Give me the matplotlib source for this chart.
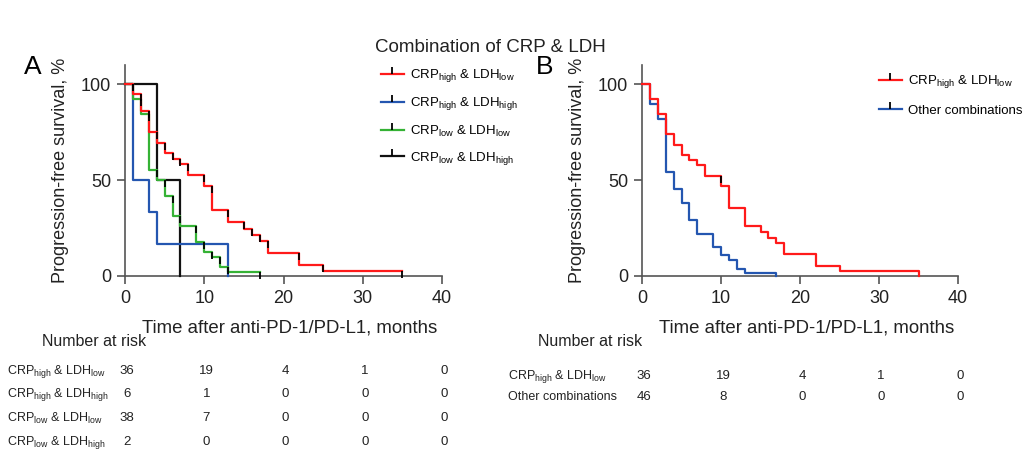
import matplotlib
matplotlib.use('Agg')
import matplotlib.pyplot as plt
from matplotlib.lines import Line2D

plt.rcParams['font.family'] = ['Liberation Sans', 'DejaVu Sans']
plt.rcParams['mathtext.fontset'] = 'custom'
plt.rcParams['mathtext.rm'] = 'Liberation Sans'
plt.rcParams['mathtext.it'] = 'Liberation Sans:italic'
plt.rcParams['mathtext.bf'] = 'Liberation Sans:bold'

# panel A: four CRP/LDH groups (months, % PFS)
a_red_t = [0, 1, 2, 3, 4, 5, 6, 7, 8, 10, 11, 13, 15, 16, 17, 18, 22, 25, 35]
a_red_s = [100, 94.8, 86.2, 75.1, 69.5, 63.9, 61.0, 58.2, 52.6, 46.9, 34.3, 28.0, 24.7, 21.6, 18.3, 12.2, 5.7, 2.4, 2.4]
a_blue_t = [0, 1, 3, 4, 13]
a_blue_s = [100, 50, 33.3, 16.7, 0]
a_green_t = [0, 1, 2, 3, 4, 5, 6, 7, 9, 10, 11, 12, 13, 17]
a_green_s = [100, 92.1, 84.2, 55.3, 50.0, 41.6, 31.2, 26.1, 17.8, 12.5, 9.9, 4.7, 2.1, 2.1]
a_black_t = [0, 4, 7]
a_black_s = [100, 50, 0]

# panel B: CRP high & LDH low vs the rest
b_red_t = [0, 1, 2, 3, 4, 5, 6, 7, 8, 10, 11, 13, 15, 16, 17, 18, 22, 25, 35]
b_red_s = [100, 92.3, 84.3, 73.9, 68.3, 63.1, 60.5, 57.8, 52.3, 47.0, 35.2, 26.1, 23.0, 20.0, 17.2, 11.3, 5.2, 2.4, 0]
b_blue_t = [0, 1, 2, 3, 4, 5, 6, 7, 9, 10, 11, 12, 13, 17]
b_blue_s = [100, 89.5, 81.9, 54.4, 45.3, 38.2, 29.1, 22.1, 15.2, 10.8, 8.2, 3.8, 1.7, 0]
b_cens_t = [10]
b_cens_s = [52.3]

labels_a = [r'CRP$_{\mathrm{high}}$ & LDH$_{\mathrm{low}}$',
            r'CRP$_{\mathrm{high}}$ & LDH$_{\mathrm{high}}$',
            r'CRP$_{\mathrm{low}}$ & LDH$_{\mathrm{low}}$',
            r'CRP$_{\mathrm{low}}$ & LDH$_{\mathrm{high}}$']
labels_b = [r'CRP$_{\mathrm{high}}$ & LDH$_{\mathrm{low}}$', 'Other combinations']

risk_times = [0, 10, 20, 30, 40]
risk_a = [[36, 19, 4, 1, 0], [6, 1, 0, 0, 0], [38, 7, 0, 0, 0], [2, 0, 0, 0, 0]]
risk_b = [[36, 19, 4, 1, 0], [46, 8, 0, 0, 0]]

RED, BLUE, GREEN, BLACK = '#ff1a1a', '#2456b0', '#35b235', '#111111'
AXC = '#555555'

fig = plt.figure(figsize=(10.25, 4.51), dpi=100)
W, H = 1025, 451
axA = fig.add_axes([125 / W, 1 - 276 / H, 317 / W, 211 / H])
axB = fig.add_axes([642 / W, 1 - 276 / H, 316 / W, 211 / H])


def style(ax):
    ax.set_xlim(0, 40)
    ax.set_ylim(0, 110)
    ax.set_xticks([0, 10, 20, 30, 40])
    ax.set_yticks([0, 50, 100])
    for s in ['top', 'right']:
        ax.spines[s].set_visible(False)
    for s in ['left', 'bottom']:
        ax.spines[s].set_color(AXC)
        ax.spines[s].set_linewidth(1.2)
    ax.tick_params(direction='out', length=6, width=1.2, color=AXC,
                   labelsize=13, labelcolor='#222222', pad=4)
    ax.set_xlabel('Time after anti-PD-1/PD-L1, months', fontsize=13.4, color='#222222')
    ax.xaxis.set_label_coords(0.52, -0.205)
    ax.set_ylabel('Progression-free survival, %', fontsize=13, color='#222222')
    ax.yaxis.set_label_coords(-0.178, 0.5)


def km(ax, t, s, color, cens=False):
    ax.plot(t, s, drawstyle='steps-post', color=color, lw=1.6, clip_on=False, zorder=3)
    if cens:
        ax.plot(t[1:], s[:-1], ls='none', marker=3, ms=5, mew=1.3,
                color='black', clip_on=False, zorder=4)


style(axA)
style(axB)

km(axA, a_black_t, a_black_s, BLACK)
km(axA, a_blue_t, a_blue_s, BLUE)
km(axA, a_green_t, a_green_s, GREEN, cens=True)
km(axA, a_red_t, a_red_s, RED, cens=True)

km(axB, b_blue_t, b_blue_s, BLUE)
km(axB, b_red_t, b_red_s, RED)
axB.plot(b_cens_t, b_cens_s, ls='none', marker=3, ms=5, mew=1.3, color='black', zorder=4)


def handle(c):
    return Line2D([], [], color=c, lw=1.6, marker=2, ms=5, mew=1.3,
                  mec='black', mfc='black')


axA.legend([handle(c) for c in [RED, BLUE, GREEN, BLACK]], labels_a,
           loc='upper left', bbox_to_anchor=(372 / W, 1 - 58 / H),
           bbox_transform=fig.transFigure, frameon=False, fontsize=9.5,
           handlelength=1.7, handletextpad=0.5, labelspacing=0.85, numpoints=1,
           borderaxespad=0.3)
axB.legend([handle(c) for c in [RED, BLUE]], labels_b,
           loc='upper left', bbox_to_anchor=(870 / W, 1 - 64 / H),
           bbox_transform=fig.transFigure, frameon=False, fontsize=9.5,
           handlelength=1.7, handletextpad=0.5, labelspacing=1.1, numpoints=1,
           borderaxespad=0.3)

fig.text(490 / W, 1 - 47 / H, 'Combination of CRP & LDH', fontsize=13.5,
         ha='center', va='center', color='#222222')
fig.text(33 / W, 1 - 67 / H, 'A', fontsize=19, ha='center', va='center')
fig.text(545 / W, 1 - 67 / H, 'B', fontsize=19, ha='center', va='center')


def risk_table(ax, label_x, title_x, title_y, rows_y, labels, table):
    fig.text(title_x / W, 1 - title_y / H, 'Number at risk', fontsize=11.5,
             ha='left', va='center', color='#222222')
    for lab, y, row in zip(labels, rows_y, table):
        fig.text(label_x / W, 1 - y / H, lab, fontsize=9, ha='left',
                 va='center', color='#222222')
        for t, n in zip(risk_times, row):
            x_fig = fig.transFigure.inverted().transform(
                ax.transData.transform((t, 0)))[0]
            fig.text(x_fig + 2 / W, 1 - y / H, str(n), fontsize=9.5,
                     ha='center', va='center', color='#222222')


risk_table(axA, 7, 42, 342, [371, 394, 418, 442], labels_a, risk_a)
risk_table(axB, 508, 538, 342, [376, 397], labels_b, risk_b)

fig.savefig('out.png', dpi=100)
